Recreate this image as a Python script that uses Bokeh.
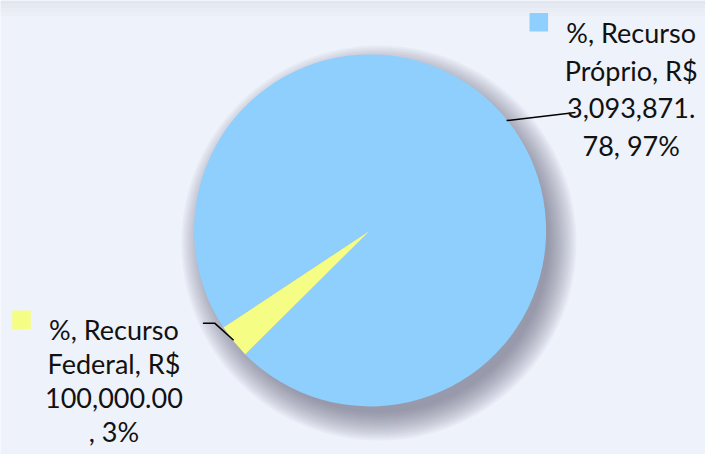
import math
from bokeh.plotting import figure
from bokeh.models import Range1d
from bokeh.core.properties import value
from bokeh.embed import file_html
from bokeh.resources import INLINE

# ---- data ----
categories = ["Recurso Próprio", "Recurso Federal"]
amounts = [3093871.78, 100000.00]
colors = ["#8ECFFE", "#F5FD84"]
label_lines = [
    ["%, Recurso", "Próprio, R$", "3,093,871.", "78, 97%"],
    ["%, Recurso", "Federal, R$", "100,000.00", ", 3%"],
]

# ---- layout (reference-image coordinates, y measured downward) ----
REF_W, REF_H = 721, 470
W, H = 705, 454
START_ANGLE = 224.8          # degrees, counter-clockwise
CX, CY, R = 378, 238, 180
SH_DX, SH_DY = 9, 13
FONT = "Lato"
FSIZE = "27px"
label_layout = [
    dict(cx=645, base=33, line_h=39, key_x=541, key_y=13, leader=[(588, 116)]),
    dict(cx=116, base=341, line_h=35, key_x=12, key_y=321, leader=[(219, 334), (207, 334)]),
]


def py(y):
    return REF_H - y


p = figure(width=W, height=H, output_backend="svg", toolbar_location=None,
           x_range=Range1d(0, REF_W), y_range=Range1d(0, REF_H),
           min_border=0, background_fill_color="#EEF2FB", border_fill_color="#EEF2FB")
p.outline_line_color = None
p.axis.visible = False
p.grid.visible = False

# top band
for i, c in enumerate(["#E2E6EE", "#E5E9F1", "#E8ECF4", "#EBEFF7"]):
    p.quad(left=0, right=REF_W, bottom=py(4 * i + 4), top=py(4 * i), fill_color=c, line_color=None)

# soft shadow
n = 15
for i in range(n):
    rr = R - 6 + i * 2
    p.circle(x=CX + SH_DX, y=py(CY + SH_DY), radius=rr, fill_color="#4A4E58",
             fill_alpha=0.042, line_color=None)

# pie slices
total = sum(amounts)
angles = []
a = START_ANGLE
for amt in amounts:
    span = amt / total * 360.0
    angles.append((a, a + span))
    a += span

for (a0, a1), col in zip(angles, colors):
    p.wedge(x=CX, y=py(CY), radius=R, start_angle=math.radians(a0), end_angle=math.radians(a1),
            fill_color=col, line_color=None)

# labels, keys and leader lines
for (a0, a1), col, lines, lay in zip(angles, colors, label_lines, label_layout):
    mid = math.radians((a0 + a1) / 2)
    sx = CX + R * math.cos(mid)
    sy = py(CY) + R * math.sin(mid)
    xs = [sx] + [pt[0] for pt in lay["leader"]]
    ys = [sy] + [py(pt[1]) for pt in lay["leader"]]
    p.line(xs, ys, line_color="#000000", line_width=1.5)
    p.quad(left=lay["key_x"], right=lay["key_x"] + 19, top=py(lay["key_y"]),
           bottom=py(lay["key_y"] + 19), fill_color=col, line_color=None)
    p.text(x=[lay["cx"]] * len(lines),
           y=[py(lay["base"] + i * lay["line_h"]) for i in range(len(lines))],
           text=lines, text_align="center", text_baseline="alphabetic",
           text_font=value(FONT), text_font_size=FSIZE, text_color="#111111")

open("out.html", "w").write(file_html(p, INLINE))
